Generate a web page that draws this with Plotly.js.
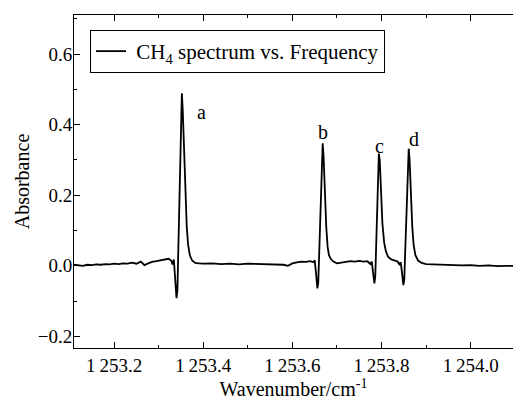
<!DOCTYPE html>
<html>
<head>
<meta charset="utf-8">
<script src="https://cdn.plot.ly/plotly-3.0.1.min.js"></script>
<style>html,body{margin:0;padding:0;background:#fff;}#chart{width:513px;height:401px;}</style>
</head>
<body>
<div id="chart"></div>
<script>
// Wavenumber (cm^-1)
var wavenumber = [
1253.110,1253.120,1253.130,1253.140,1253.150,1253.160,1253.170,1253.180,1253.190,1253.200,
1253.210,1253.220,1253.230,1253.240,1253.250,1253.260,1253.268,1253.275,1253.285,1253.295,
1253.305,1253.315,1253.322,1253.328,1253.331,1253.334,1253.337,1253.340,1253.342,1253.345,
1253.348,1253.351,1253.352,1253.354,1253.357,1253.360,1253.363,1253.366,1253.370,1253.375,
1253.382,1253.390,1253.400,1253.420,1253.440,1253.460,1253.480,1253.500,1253.520,1253.540,
1253.560,1253.580,1253.590,1253.600,1253.610,1253.620,1253.630,1253.640,1253.648,1253.650,
1253.653,1253.656,1253.658,1253.661,1253.664,1253.667,1253.668,1253.670,1253.673,1253.676,
1253.679,1253.682,1253.686,1253.692,1253.700,1253.710,1253.720,1253.730,1253.740,1253.750,
1253.760,1253.768,1253.775,1253.778,1253.781,1253.784,1253.786,1253.789,1253.792,1253.794,
1253.796,1253.799,1253.802,1253.806,1253.810,1253.815,1253.822,1253.830,1253.836,1253.840,
1253.843,1253.846,1253.849,1253.851,1253.854,1253.857,1253.860,1253.861,1253.863,1253.866,
1253.869,1253.872,1253.876,1253.882,1253.890,1253.900,1253.920,1253.940,1253.960,1253.980,
1254.000,1254.020,1254.040,1254.060,1254.080,1254.095];
// Absorbance
var absorbance = [
0.003,0.002,0.000,0.003,0.002,0.004,0.003,0.005,0.004,0.006,
0.005,0.007,0.006,0.009,0.006,0.012,0.002,0.006,0.011,0.013,
0.016,0.018,0.020,0.015,0.004,0.018,-0.030,-0.092,-0.070,0.100,
0.320,0.470,0.489,0.440,0.330,0.200,0.110,0.060,0.030,0.015,
0.008,0.007,0.006,0.007,0.005,0.006,0.004,0.006,0.005,0.004,
0.005,0.003,0.000,0.007,0.010,0.012,0.011,0.013,0.010,0.016,
-0.020,-0.064,-0.050,0.060,0.220,0.335,0.347,0.310,0.200,0.110,
0.055,0.030,0.020,0.012,0.007,0.008,0.011,0.013,0.012,0.014,
0.012,0.013,0.005,0.012,-0.020,-0.050,-0.030,0.080,0.250,0.318,
0.300,0.200,0.120,0.065,0.040,0.025,0.018,0.015,0.012,0.004,
0.010,-0.020,-0.055,-0.040,0.070,0.230,0.325,0.332,0.300,0.200,
0.110,0.060,0.030,0.015,0.008,0.005,0.004,0.002,0.003,0.001,
0.002,0.000,0.001,-0.001,0.000,0.000];

var peakLabels = ['a','b','c','d'];
var peakLabelX = [1253.396, 1253.668, 1253.796, 1253.873];
var peakLabelY = [0.436, 0.378, 0.341, 0.359];

var xTickVals = [1253.2, 1253.4, 1253.6, 1253.8, 1254.0];
var xTickText = ['1\u2009253.2','1\u2009253.4','1\u2009253.6','1\u2009253.8','1\u2009254.0'];
var yTickVals = [-0.2, 0.0, 0.2, 0.4, 0.6];
var yTickText = ['\u22120.2','0.0','0.2','0.4','0.6'];

var serif = "Liberation Serif, Times New Roman, serif";

var trace = {
  x: wavenumber, y: absorbance, type: 'scatter', mode: 'lines',
  name: '\u00a0CH<sub>4</sub> spectrum vs. Frequency',
  line: {color: '#000', width: 1.8}
};

var annotations = peakLabels.map(function(t, i){
  return {x: peakLabelX[i], y: peakLabelY[i], text: t, showarrow: false,
    font: {family: serif, size: 20, color: '#000'}};
});

var layout = {
  width: 513, height: 401,
  margin: {l: 74, r: 0, t: 15, b: 53},
  paper_bgcolor: '#fff', plot_bgcolor: '#fff',
  font: {family: serif, color: '#000', size: 19},
  showlegend: true,
  legend: {x: 0.0365, y: 0.955, xanchor: 'left', yanchor: 'top',
    bordercolor: '#000', borderwidth: 1, bgcolor: '#fff',
    font: {family: serif, size: 21, color: '#000'}},
  xaxis: {range: [1253.11, 1254.095], tickmode: 'array', tickvals: xTickVals, ticktext: xTickText,
    ticks: 'inside', ticklen: 6, tickwidth: 1, tickcolor: '#000',
    showline: true, linecolor: '#000', linewidth: 1, mirror: 'ticks',
    showgrid: false, zeroline: false,
    minor: {tickmode: 'linear', tick0: 1253.1, dtick: 0.2, ticks: 'inside', ticklen: 3, tickcolor: '#000', showgrid: false},
    tickfont: {family: serif, size: 19, color: '#000'},
    title: {text: 'Wavenumber/cm<sup>-1</sup>', font: {family: serif, size: 20, color: '#000'}, standoff: 0}},
  yaxis: {range: [-0.233, 0.711], tickmode: 'array', tickvals: yTickVals, ticktext: yTickText,
    ticks: 'inside', ticklen: 6, tickwidth: 1, tickcolor: '#000',
    showline: true, linecolor: '#000', linewidth: 1, mirror: false,
    showgrid: false, zeroline: false, ticklabelstandoff: -3,
    minor: {tickmode: 'linear', tick0: -0.1, dtick: 0.2, ticks: 'inside', ticklen: 3, tickcolor: '#000', showgrid: false},
    tickfont: {family: serif, size: 19, color: '#000'},
    title: {text: 'Absorbance', font: {family: serif, size: 20, color: '#000'}, standoff: 2}},
  annotations: annotations
};

Plotly.newPlot('chart', [trace], layout, {displayModeBar: false, staticPlot: true});
</script>
</body>
</html>
